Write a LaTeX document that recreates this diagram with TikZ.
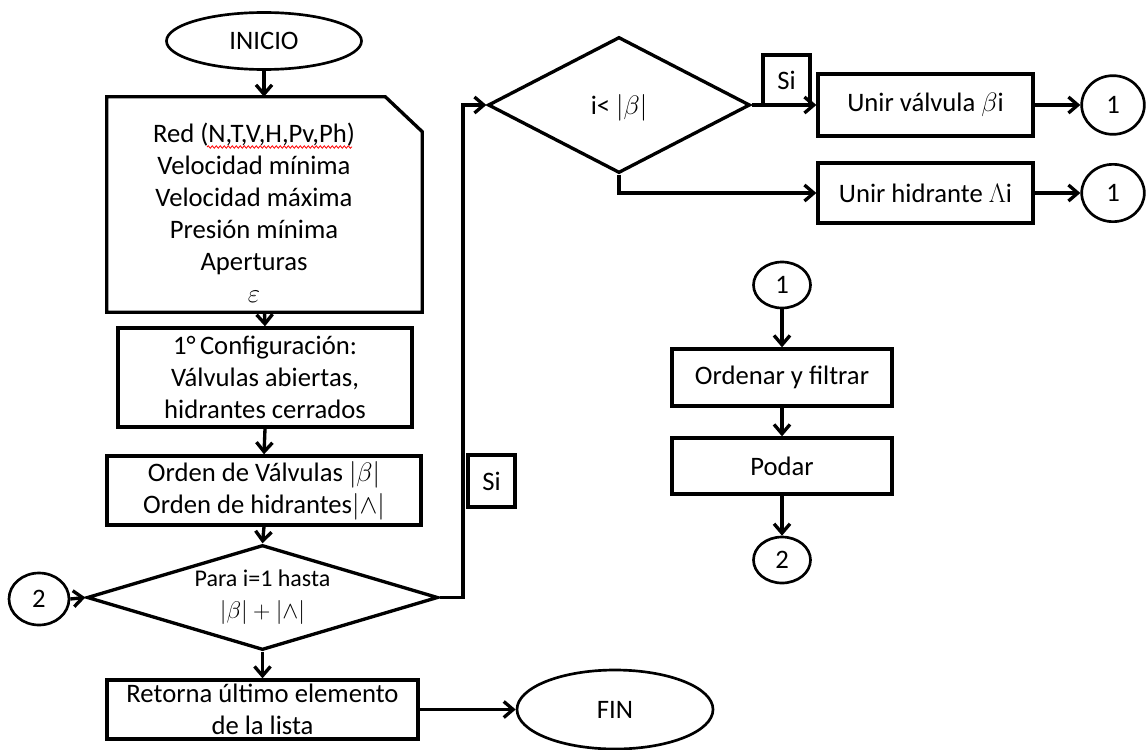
\documentclass[tikz,border=0pt]{standalone}
\usepackage{fix-cm}
\usepackage{fontspec}
\setmainfont{Carlito}
\usetikzlibrary{shapes.geometric,arrows.meta,decorations.pathmorphing}
\begin{document}
\begin{tikzpicture}[x=0.75pt,y=-0.75pt,
  every node/.style={font=\fontsize{20pt}{24pt}\selectfont},
  ln/.style={line width=2.5pt},
  arr/.style={ln,-{Straight Barb[length=7pt,width=12pt]}},
  box/.style={draw,ln,rectangle,inner sep=0pt,align=center},
  term/.style={draw,line width=2pt,ellipse,inner sep=0pt},
  conn/.style={draw,line width=2pt,ellipse,inner sep=0pt},
  dia/.style={draw,ln,diamond,inner sep=0pt},
  txt/.style={inner sep=0pt,align=center},
  squig/.style={red,line width=0.6pt,decorate,decoration={snake,amplitude=0.9pt,segment length=3pt}}]
\fill[white] (0,0) rectangle (1148,749);
\useasboundingbox (0,0) rectangle (1148,749);

% left column
\node[term,minimum width=146.25pt,minimum height=42.75pt] (ini) at (264,41) {INICIO};
\node[minimum width=236.25pt,minimum height=161.25pt,inner sep=0pt] (inp) at (264.5,204.5) {};
\draw[ln] (inp.north west) -- ([xshift=-27.75pt]inp.north east) -- ([yshift=-26.25pt]inp.north east) -- (inp.south east) -- (inp.south west) -- cycle;
\node[txt] (inpt) at (254,212.5) {Red (N,T,V,H,Pv,Ph)\\Velocidad mínima\\Velocidad máxima\\Presión mínima\\Aperturas\\$\varepsilon$};
\draw[squig] (207,147) -- (352,147);
\node[box,minimum width=220.5pt,minimum height=74.25pt] (cfg) at (265,377.5) {1°\,Configuración:\\Válvulas abiertas,\\hidrantes cerrados};
\node[box,minimum width=235.5pt,minimum height=51.75pt] (ord) at (264,490.5) {Orden de Válvulas $|\beta|$\\Orden de hidrantes$|{\wedge}|$};
\node[dia,minimum width=263.25pt,minimum height=78.75pt] (d1) at (262.5,597.5) {};
\node[txt,font=\fontsize{18pt}{24pt}\selectfont] (d1t) at (d1) {Para i=1 hasta\\$|\beta|+|{\wedge}|$};
\node[box,minimum width=233.25pt,minimum height=44.25pt] (ret) at (262.5,709.5) {Retorna último elemento\\de la lista};
\node[term,minimum width=147pt,minimum height=59.25pt] (fin) at (615,709.5) {FIN};
\node[conn,minimum width=45pt,minimum height=39pt] (c2a) at (39,599) {2};
\node[box,minimum width=35.25pt,minimum height=39pt] (si1) at (491.5,481) {Si};

% top right
\node[dia,minimum width=196.5pt,minimum height=102pt] (d2) at (619,105) {};
\node[txt] (d2t) at (619,108) {i< $|\beta|$};
\node[box,minimum width=35.25pt,minimum height=37.5pt] (si2) at (786.5,80) {Si};
\node[box,minimum width=161.25pt,minimum height=46.5pt] (uv) at (925.5,105) {Unir válvula $\beta\mathrm{i}$};
\node[box,minimum width=161.25pt,minimum height=45pt] (uh) at (925.5,193) {Unir hidrante $\Lambda\mathrm{i}$};
\node[conn,minimum width=47pt,minimum height=44pt] (c1a) at (1113,105) {1};
\node[conn,minimum width=47pt,minimum height=43pt] (c1b) at (1113,193) {1};

% middle right
\node[conn,minimum width=42.75pt,minimum height=34.5pt] (c1m) at (782,285) {1};
\node[box,minimum width=165pt,minimum height=42.75pt] (of) at (782,377.5) {Ordenar y filtrar};
\node[box,minimum width=165pt,minimum height=42pt] (pod) at (782,466) {Podar};
\node[conn,minimum width=42.75pt,minimum height=34.5pt] (c2m) at (782,560) {2};

% connectors
\draw[arr] (ini.south) -- (ini.south |- inp.north);
\draw[arr] (inp.south) -- (cfg.north);
\draw[arr] (cfg.south) -- (ord.north);
\draw[arr] (ord.south) -- (d1.north);
\draw[arr] (d1.south) -- (ret.north);
\draw[arr] (ret.east) -- (fin.west);
\draw[arr] (c2a.east) -- (d1.west);
\coordinate (lp) at (463,300);
\draw[arr] (d1.east) -- (d1.east -| lp) -- (d2.west -| lp) -- (d2.west);
\draw[arr] (d2.east) -- (uv.west);
\draw[arr] (d2.south) |- (uh.west);
\draw[arr] (uv) -- (c1a);
\draw[arr] (uh) -- (c1b);
\draw[arr] (c1m) -- (of);
\draw[arr] (of) -- (pod);
\draw[arr] (pod) -- (c2m);
\end{tikzpicture}
\end{document}
